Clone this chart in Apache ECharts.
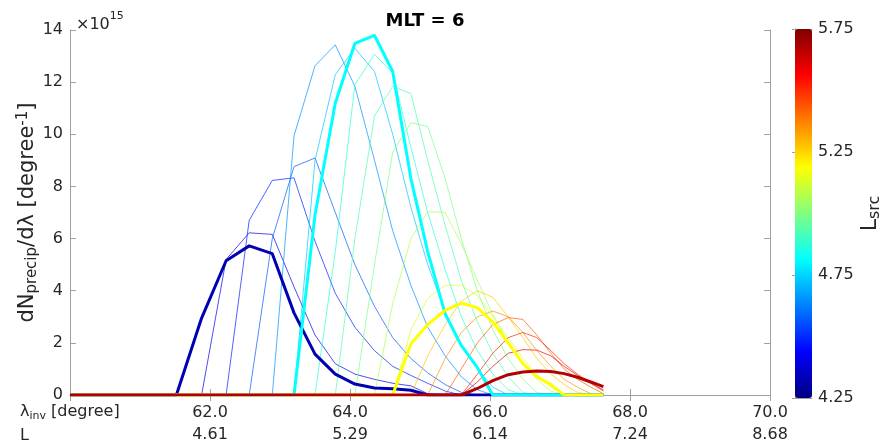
<!DOCTYPE html>
<html><head><meta charset="utf-8">
<script src="https://cdn.jsdelivr.net/npm/echarts@6/dist/echarts.min.js"></script>
<style>html,body{margin:0;padding:0;background:#fff}#c{width:888px;height:446px}</style>
</head><body><div id="c"></div>
<script>
// x grid (lambda_inv, degrees)
const lambdaGrid = [60.0, 60.35, 60.75, 61.15, 61.52, 61.88, 62.23, 62.56, 62.89, 63.20, 63.50, 63.79, 64.07, 64.35, 64.61, 64.87, 65.11, 65.36, 65.59, 65.82, 66.04, 66.26, 66.47, 66.67, 66.87, 67.06, 67.25, 67.44, 67.62];
// source L of each curve
const lSrc = [4.25, 4.333, 4.417, 4.5, 4.583, 4.667, 4.75, 4.833, 4.917, 5.0, 5.083, 5.167, 5.25, 5.333, 5.417, 5.5, 5.583, 5.667, 5.75];
const thickIdx = [0, 6, 12, 18];
// values in units of 1e15 per degree
const c0  = [0,0,0,0,0, 2.95,5.15,5.72,5.42,3.15,1.57,0.80,0.42,0.27,0.24,0.18,0,0,0,0,0,0,0,0,0,0,0,0,0];
const c1  = [0,0,0,0,0, 0,5.2,6.22,6.16,4.15,2.3,1.2,0.8,0.6,0.45,0.35,0.05,0,0,0,0,0,0,0,0,0,0,0,0];
const c2  = [0,0,0,0,0, 0,0,6.7,8.23,8.33,5.9,3.9,2.6,1.7,1.1,0.75,0.45,0.15,0,0,0,0,0,0,0,0,0,0,0];
const c3  = [0,0,0,0,0, 0,0,0,6.0,8.76,9.09,7.0,5.0,3.4,2.2,1.4,0.85,0.4,0.1,0,0,0,0,0,0,0,0,0,0];
const c4  = [0,0,0,0,0, 0,0,0,0,9.94,12.63,13.43,11.84,9.0,6.3,4.2,2.6,1.5,0.7,0.2,0,0,0,0,0,0,0,0,0];
const c5  = [0,0,0,0,0, 0,0,0,0,0,9.0,12.29,13.3,12.41,10.0,7.2,5.0,3.2,1.9,1.0,0.3,0,0,0,0,0,0,0,0];
const c6  = [0,0,0,0,0, 0,0,0,0,0,6.9,11.2,13.49,13.79,12.41,8.3,5.5,3.1,1.9,1.05,0,0,0,0,0,0,0,0,0];
const c7  = [0,0,0,0,0, 0,0,0,0,0,0,5.5,11.9,13.07,12.35,9.5,7.0,4.8,3.0,1.7,0.8,0.2,0,0,0,0,0,0,0];
const c8  = [0,0,0,0,0, 0,0,0,0,0,0,0,6.0,10.7,11.84,11.56,9.0,6.5,4.4,2.8,1.6,0.7,0.1,0,0,0,0,0,0];
const c9  = [0,0,0,0,0, 0,0,0,0,0,0,0,0,5.0,9.31,10.45,10.3,8.3,6.0,4.0,2.5,1.4,0.6,0.1,0,0,0,0,0];
const c10 = [0,0,0,0,0, 0,0,0,0,0,0,0,0,0,3.5,6.0,7.03,7.0,5.8,4.4,3.1,2.0,1.2,0.6,0.15,0,0,0,0];
const c11 = [0,0,0,0,0, 0,0,0,0,0,0,0,0,0,0,2.5,3.7,4.21,4.21,3.8,3.0,2.2,1.4,0.8,0.3,0,0,0,0];
const c12 = [0,0,0,0,0, 0,0,0,0,0,0,0,0,0,0,1.97,2.7,3.25,3.52,3.35,2.8,2.0,1.2,0.7,0.4,0,0,0,0];
const c13 = [0,0,0,0,0, 0,0,0,0,0,0,0,0,0,0,0,1.5,2.7,3.6,4.0,3.75,3.0,2.2,1.4,0.8,0.4,0.1,0,0];
const c14 = [0,0,0,0,0, 0,0,0,0,0,0,0,0,0,0,0,0,1.4,2.4,3.0,3.22,3.0,2.4,1.7,1.1,0.6,0.3,0.05,0];
const c15 = [0,0,0,0,0, 0,0,0,0,0,0,0,0,0,0,0,0,0,1.0,2.0,2.7,2.97,2.9,2.3,1.6,1.0,0.6,0.3,0.05];
const c16 = [0,0,0,0,0, 0,0,0,0,0,0,0,0,0,0,0,0,0,0,0.8,1.6,2.2,2.4,2.2,1.7,1.2,0.8,0.45,0.15];
const c17 = [0,0,0,0,0, 0,0,0,0,0,0,0,0,0,0,0,0,0,0,0.5,1.1,1.6,1.74,1.72,1.5,1.1,0.75,0.45,0.2];
const c18 = [0,0,0,0,0, 0,0,0,0,0,0,0,0,0,0,0,0,0,0,0.25,0.55,0.78,0.88,0.92,0.9,0.82,0.68,0.5,0.32];
const curves = [c0,c1,c2,c3,c4,c5,c6,c7,c8,c9,c10,c11,c12,c13,c14,c15,c16,c17,c18];
// axis tick labels
const lamTicks = [62, 64, 66, 68, 70];
const lamTickLabels = ['62.0', '64.0', '66.0', '68.0', '70.0'];
const lTickLabels = ['4.61', '5.29', '6.14', '7.24', '8.68'];

function jet(t) {
  const cl = v => Math.max(0, Math.min(1, v));
  const r = cl(1.5 - Math.abs(4 * t - 3)), g = cl(1.5 - Math.abs(4 * t - 2)), b = cl(1.5 - Math.abs(4 * t - 1));
  return 'rgb(' + Math.round(r * 255) + ',' + Math.round(g * 255) + ',' + Math.round(b * 255) + ')';
}
// colour position of a curve: thick curves sit at dark blue, cyan, yellow, dark red
function curveT(k) {
  if (k <= 6) return 0.05 + (0.375 - 0.05) * k / 6;
  if (k <= 12) return 0.375 + 0.25 * (k - 6) / 6;
  return 0.625 + (0.95 - 0.625) * (k - 12) / 6;
}
const FONT = 'DejaVu Sans';
const AX = '#a0a0a0';
const TXT = '#262626';

const series = [];
const order = [];
curves.forEach((c, k) => { if (thickIdx.indexOf(k) < 0) order.push(k); });
thickIdx.forEach(k => order.push(k));
order.forEach(k => {
  const thick = thickIdx.indexOf(k) >= 0;
  series.push({
    type: 'line', xAxisIndex: 0, yAxisIndex: 0,
    data: lambdaGrid.map((x, j) => [x, curves[k][j]]),
    showSymbol: false, symbol: 'none', clip: true,
    lineStyle: { color: jet(curveT(k)), width: thick ? 3 : 0.7 },
    z: thick ? 3 : 2
  });
});
series.push({ type: 'scatter', xAxisIndex: 2, yAxisIndex: 2, data: [] });

const option = {
  animation: false,
  backgroundColor: '#fff',
  title: [
    { text: 'MLT = 6', left: 420, top: 7, textAlign: 'center',
      textStyle: { fontFamily: FONT, fontSize: 18, fontWeight: 'bold', color: '#000' } },
    { text: '{x|×10}{s|15}', left: 71, top: 6,
      textStyle: { fontWeight: 'normal', rich: {
        x: { fontFamily: FONT, fontSize: 16, fontWeight: 'normal', color: TXT, lineHeight: 22, verticalAlign: 'bottom' },
        s: { fontFamily: FONT, fontSize: 11, fontWeight: 'normal', color: TXT, lineHeight: 12, verticalAlign: 'top' } } } }
  ],
  grid: [
    { left: 70, right: 118, top: 30, bottom: 48 },
    { left: 795, width: 17, top: 29, height: 369 }
  ],
  xAxis: [
    { gridIndex: 0, type: 'value', min: 60, max: 70, interval: 2, position: 'bottom',
      axisLine: { lineStyle: { color: AX } }, axisTick: { inside: true, length: 6, lineStyle: { color: AX } },
      splitLine: { show: false },
      axisLabel: { fontFamily: FONT, fontSize: 16, color: TXT, lineHeight: 22, margin: 7,
        formatter: v => { const i = lamTicks.indexOf(v); return i < 0 ? '' : lamTickLabels[i] + '\n' + lTickLabels[i]; } } },
    { gridIndex: 0, type: 'value', min: 60, max: 70, interval: 2, position: 'top',
      axisLine: { lineStyle: { color: AX } }, axisTick: { inside: true, length: 6, lineStyle: { color: AX } },
      splitLine: { show: false }, axisLabel: { show: false } },
    { gridIndex: 1, type: 'value', min: 0, max: 1, show: true, position: 'bottom',
      axisLine: { lineStyle: { color: AX } }, axisTick: { show: false }, axisLabel: { show: false }, splitLine: { show: false } },
    { gridIndex: 1, type: 'value', min: 0, max: 1, show: true, position: 'top',
      axisLine: { lineStyle: { color: AX } }, axisTick: { show: false }, axisLabel: { show: false }, splitLine: { show: false } }
  ],
  yAxis: [
    { gridIndex: 0, type: 'value', min: 0, max: 14, interval: 2, position: 'left',
      axisLine: { show: true, lineStyle: { color: AX } }, axisTick: { show: true, inside: true, length: 6, lineStyle: { color: AX } },
      splitLine: { show: false },
      axisLabel: { fontFamily: FONT, fontSize: 16, color: TXT, margin: 7 },
      name: '{m|dN}{b|precip}{m|/dλ [degree}{t|-1}{m|]}', nameLocation: 'middle', nameRotate: 90, nameGap: 30,
      nameMoveOverlap: false,
      nameTextStyle: { rich: {
        m: { fontFamily: FONT, fontSize: 21, color: TXT, lineHeight: 24, verticalAlign: 'middle' },
        b: { fontFamily: FONT, fontSize: 15, color: TXT, lineHeight: 14, verticalAlign: 'bottom' },
        t: { fontFamily: FONT, fontSize: 15, color: TXT, lineHeight: 14, verticalAlign: 'top' } } } },
    { gridIndex: 0, type: 'value', min: 0, max: 14, interval: 2, position: 'right',
      axisLine: { show: true, lineStyle: { color: AX } }, axisTick: { show: true, inside: true, length: 6, lineStyle: { color: AX } },
      splitLine: { show: false }, axisLabel: { show: false } },
    { gridIndex: 1, type: 'value', min: 4.25, max: 5.75, interval: 0.5, position: 'right',
      axisLine: { show: true, lineStyle: { color: AX } }, axisTick: { show: true, inside: true, length: 3, lineStyle: { color: AX } },
      splitLine: { show: false },
      axisLabel: { fontFamily: FONT, fontSize: 16, color: TXT, margin: 6, formatter: v => v.toFixed(2) },
      name: '{a|L}{s|src}', nameLocation: 'middle', nameRotate: 90, nameGap: 45,
      nameMoveOverlap: false,
      nameTextStyle: { rich: {
        a: { fontFamily: FONT, fontSize: 22, color: TXT, lineHeight: 26, verticalAlign: 'middle' },
        s: { fontFamily: FONT, fontSize: 16, color: TXT, lineHeight: 14, verticalAlign: 'bottom' } } } },
    { gridIndex: 1, type: 'value', min: 4.25, max: 5.75, position: 'left',
      axisLine: { show: true, lineStyle: { color: AX } }, axisTick: { show: false }, axisLabel: { show: false }, splitLine: { show: false } }
  ],
  visualMap: [{
    type: 'continuous', min: 4.25, max: 5.75, seriesIndex: series.length - 1,
    calculable: false, realtime: false, itemWidth: 17, itemHeight: 369, left: 795, top: 29, padding: 0,
    text: null, showLabel: false,
    inRange: { color: [0, 1, 2, 3, 4, 5, 6, 7, 8].map(i => jet(i / 8)) }
  }],
  graphic: [
    { type: 'text', left: 20, top: 404, style: { rich: {
        m: { fontFamily: FONT, fontSize: 16, fill: TXT, lineHeight: 20, verticalAlign: 'middle' },
        b: { fontFamily: FONT, fontSize: 11, fill: TXT, lineHeight: 12, verticalAlign: 'bottom' } },
      text: '{m|λ}{b|inv}{m| [degree]}' } },
    { type: 'text', left: 20, top: 428, style: { text: 'L', fontFamily: FONT, fontSize: 16, fill: TXT } }
  ],
  series: series
};
const chart = echarts.init(document.getElementById('c'), null, { renderer: 'canvas' });
chart.setOption(option);
</script></body></html>
